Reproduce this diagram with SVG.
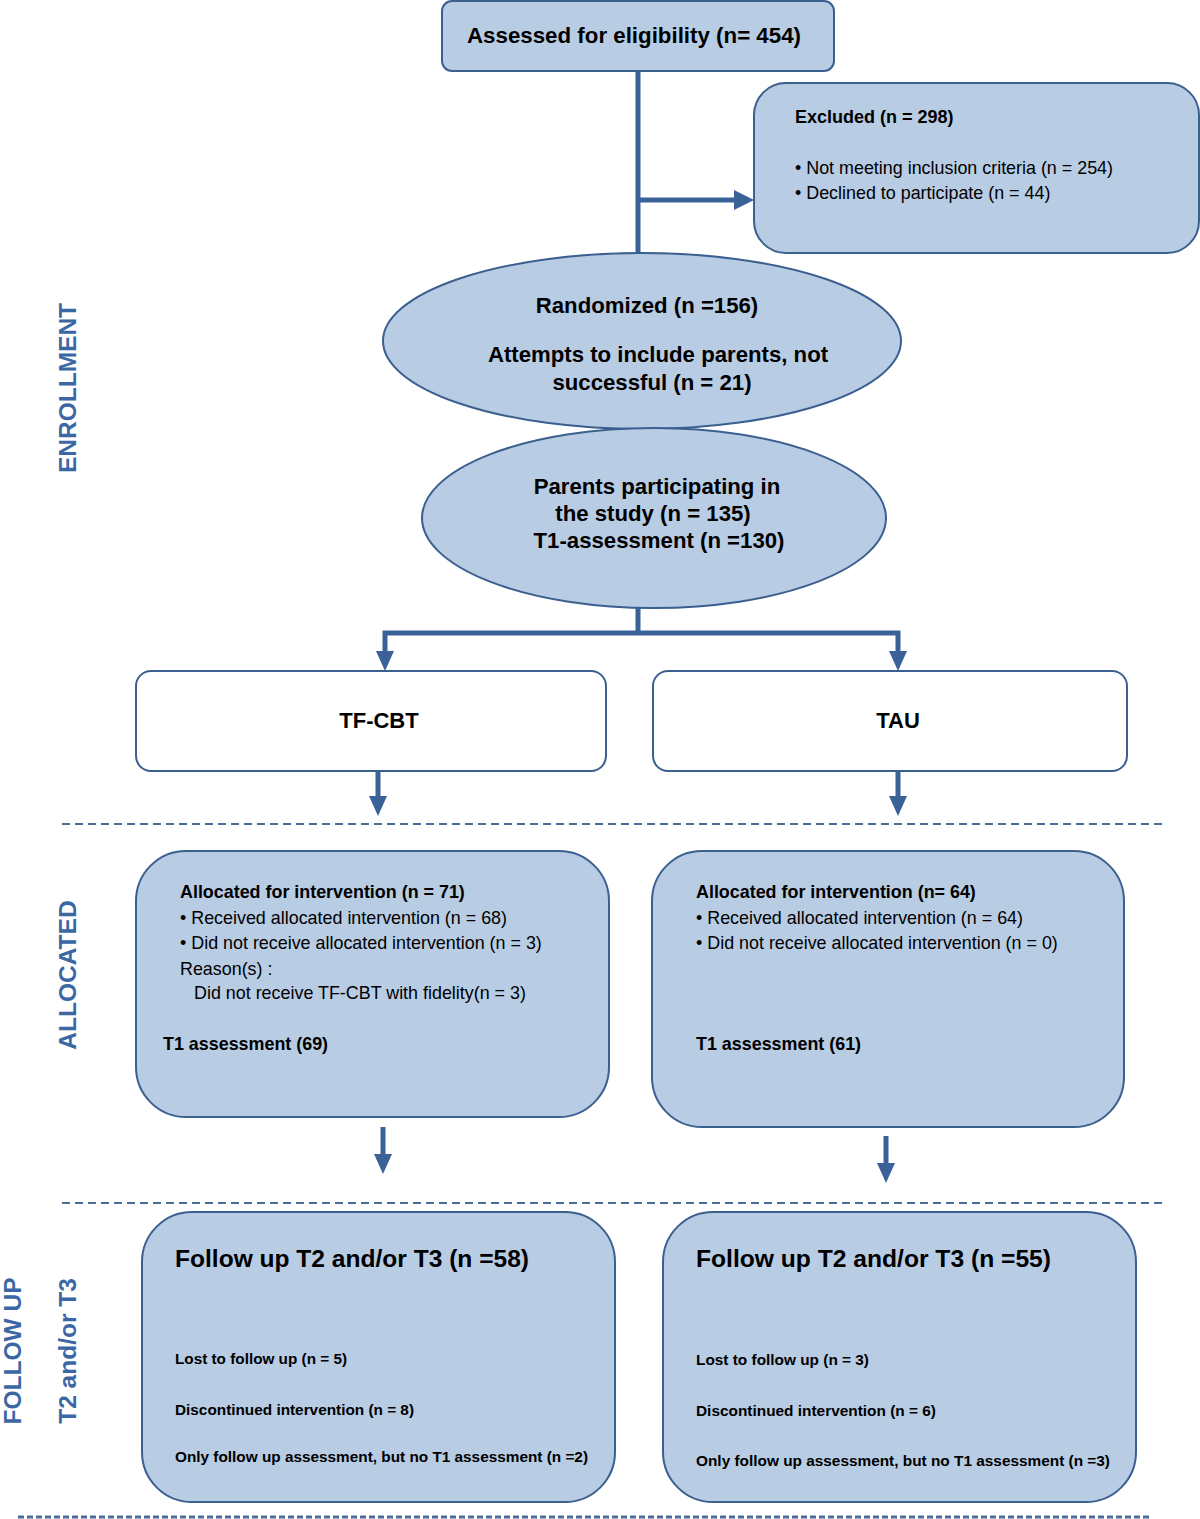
<svg xmlns="http://www.w3.org/2000/svg" width="1200" height="1519" viewBox="0 0 1200 1519">
<style>
.box{fill:#b8cce4;stroke:#3b5f8e;stroke-width:2}
.wbox{fill:#ffffff;stroke:#3b5f8e;stroke-width:2}
.t{font-family:"Liberation Sans",Arial,sans-serif;fill:#000}
.b{font-weight:bold}
.lbl{font-family:"Liberation Sans",Arial,sans-serif;font-weight:bold;font-size:24.5px;fill:#3b68a4}
.conn{stroke:#3b6298;stroke-width:5;fill:none}
.dash{stroke:#4a6d9a;stroke-width:2;stroke-dasharray:8,5;fill:none}
.head{fill:#3b6298}
</style>
<rect width="1200" height="1519" fill="#ffffff"/>
<g id="section-labels">
<text class="lbl" transform="translate(76,388) rotate(-90)" text-anchor="middle">ENROLLMENT</text>
<text class="lbl" transform="translate(76,975) rotate(-90)" text-anchor="middle">ALLOCATED</text>
<text class="lbl" transform="translate(21,1351) rotate(-90)" text-anchor="middle">FOLLOW UP</text>
<text class="lbl" transform="translate(76,1351) rotate(-90)" text-anchor="middle">T2 and/or T3</text>
</g>
<g id="connectors">
<line class="conn" x1="638" y1="71" x2="638" y2="254"/>
<line class="conn" x1="638" y1="200" x2="737" y2="200"/>
<polygon class="head" points="734,190 754,200 734,210"/>
<line class="conn" x1="638" y1="607" x2="638" y2="633"/>
<polyline class="conn" points="385,654 385,633 898,633 898,654"/>
<polygon class="head" points="376,651 394,651 385,671"/>
<polygon class="head" points="889,651 907,651 898,671"/>
<line class="conn" x1="378" y1="771" x2="378" y2="798"/>
<polygon class="head" points="369,796 387,796 378,816"/>
<line class="conn" x1="898" y1="771" x2="898" y2="798"/>
<polygon class="head" points="889,796 907,796 898,816"/>
<line class="conn" x1="383" y1="1127" x2="383" y2="1156"/>
<polygon class="head" points="374,1154 392,1154 383,1174"/>
<line class="conn" x1="886" y1="1136" x2="886" y2="1165"/>
<polygon class="head" points="877,1163 895,1163 886,1183"/>
<line class="dash" x1="62" y1="824" x2="1166" y2="824"/>
<line class="dash" x1="62" y1="1203" x2="1166" y2="1203"/>
<line class="dash" x1="18" y1="1517" x2="1150" y2="1517" style="stroke-dasharray:6,3;stroke-width:3"/>
</g>
<g id="assessed">
<rect class="box" x="442" y="1" width="392" height="70" rx="10"/>
<text class="t b" x="634" y="43" font-size="22.3" text-anchor="middle">Assessed for eligibility (n= 454)</text>
</g>
<g id="excluded">
<rect class="box" x="754" y="83" width="445" height="170" rx="32"/>
<text class="t b" x="795" y="123" font-size="18">Excluded (n = 298)</text>
<text class="t" x="795" y="174" font-size="17.9">• Not meeting inclusion criteria (n = 254)</text>
<text class="t" x="795" y="199" font-size="17.9">• Declined to participate (n = 44)</text>
</g>
<g id="randomized">
<ellipse class="box" cx="642" cy="341" rx="259" ry="88"/>
<text class="t b" x="647" y="313" font-size="22.2" text-anchor="middle">Randomized (n =156)</text>
<text class="t b" x="658" y="362" font-size="22.2" text-anchor="middle">Attempts to include parents, not</text>
<text class="t b" x="652" y="390" font-size="22.2" text-anchor="middle">successful (n = 21)</text>
</g>
<g id="parents">
<ellipse class="box" cx="654" cy="518" rx="232" ry="90"/>
<text class="t b" x="657" y="494" font-size="22.2" text-anchor="middle">Parents participating in</text>
<text class="t b" x="653" y="521" font-size="22.2" text-anchor="middle">the study (n = 135)</text>
<text class="t b" x="659" y="548" font-size="22.2" text-anchor="middle">T1-assessment (n =130)</text>
</g>
<g id="tfcbt">
<rect class="wbox" x="136" y="671" width="470" height="100" rx="15"/>
<text class="t b" x="379" y="728" font-size="22" text-anchor="middle">TF-CBT</text>
</g>
<g id="tau">
<rect class="wbox" x="653" y="671" width="474" height="100" rx="15"/>
<text class="t b" x="898" y="728" font-size="22" text-anchor="middle">TAU</text>
</g>
<g id="alloc-tfcbt">
<rect class="box" x="136" y="851" width="473" height="266" rx="50"/>
<text class="t b" x="180" y="898" font-size="17.9">Allocated for intervention (n = 71)</text>
<text class="t" x="180" y="924" font-size="17.9">• Received allocated intervention (n = 68)</text>
<text class="t" x="180" y="949" font-size="17.9">• Did not receive allocated intervention (n = 3)</text>
<text class="t" x="180" y="975" font-size="17.9">Reason(s) :</text>
<text class="t" x="194" y="999" font-size="17.9">Did not receive TF-CBT with fidelity(n = 3)</text>
<text class="t b" x="163" y="1050" font-size="17.9">T1 assessment (69)</text>
</g>
<g id="alloc-tau">
<rect class="box" x="652" y="851" width="472" height="276" rx="50"/>
<text class="t b" x="696" y="898" font-size="17.9">Allocated for intervention (n= 64)</text>
<text class="t" x="696" y="924" font-size="17.9">• Received allocated intervention (n = 64)</text>
<text class="t" x="696" y="949" font-size="17.9">• Did not receive allocated intervention (n = 0)</text>
<text class="t b" x="696" y="1050" font-size="17.9">T1 assessment (61)</text>
</g>
<g id="follow-tfcbt">
<rect class="box" x="142" y="1212" width="473" height="290" rx="50"/>
<text class="t b" x="175" y="1267" font-size="24" textLength="354" lengthAdjust="spacingAndGlyphs">Follow up T2 and/or T3 (n =58)</text>
<text class="t b" x="175" y="1364" font-size="15" textLength="172" lengthAdjust="spacingAndGlyphs">Lost to follow up (n = 5)</text>
<text class="t b" x="175" y="1415" font-size="15" textLength="239" lengthAdjust="spacingAndGlyphs">Discontinued intervention (n = 8)</text>
<text class="t b" x="175" y="1462" font-size="15" textLength="413" lengthAdjust="spacingAndGlyphs">Only follow up assessment, but no T1 assessment (n =2)</text>
</g>
<g id="follow-tau">
<rect class="box" x="663" y="1212" width="473" height="290" rx="50"/>
<text class="t b" x="696" y="1267" font-size="24" textLength="355" lengthAdjust="spacingAndGlyphs">Follow up T2 and/or T3 (n =55)</text>
<text class="t b" x="696" y="1365" font-size="15" textLength="173" lengthAdjust="spacingAndGlyphs">Lost to follow up (n = 3)</text>
<text class="t b" x="696" y="1416" font-size="15" textLength="240" lengthAdjust="spacingAndGlyphs">Discontinued intervention (n = 6)</text>
<text class="t b" x="696" y="1466" font-size="15" textLength="414" lengthAdjust="spacingAndGlyphs">Only follow up assessment, but no T1 assessment (n =3)</text>
</g>
</svg>
